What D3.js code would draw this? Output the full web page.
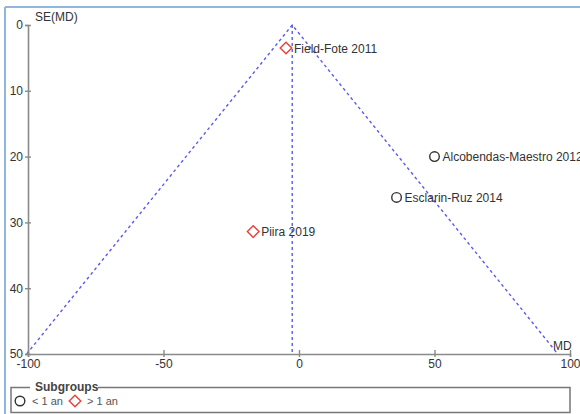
<!DOCTYPE html>
<html><head><meta charset="utf-8">
<script src="https://cdn.jsdelivr.net/npm/d3@7"></script>
<style>body{margin:0;background:#fff}svg{display:block;font-family:"Liberation Sans",Arial,sans-serif}</style>
</head><body><svg id="c" width="580" height="414"></svg>
<script>
const studies = ["Field-Fote 2011","Alcobendas-Maestro 2012","Esclarin-Ruz 2014","Piira 2019"];
const md = [-4.8, 50, 36, -16.9];
const se = [3.5, 20, 26.2, 31.4];
const group = ["> 1 an","< 1 an","< 1 an","> 1 an"];
const pooledMD = -2.5;
const xTicks = [-100,-50,0,50,100];
const yTicks = [0,10,20,30,40,50];
const groups = ["< 1 an","> 1 an"];

const FONT = "Liberation Sans, Arial, sans-serif";
const svg = d3.select("#c");
const x = d3.scaleLinear().domain([-100,100]).range([28,570]);
const y = d3.scaleLinear().domain([0,50]).range([25,354]);

// frame
svg.append("line").attr("x1",5).attr("x2",580).attr("y1",7).attr("y2",7).attr("stroke","#8fb6df").attr("stroke-width",2);
svg.append("line").attr("x1",5).attr("x2",5).attr("y1",7).attr("y2",414).attr("stroke","#8fb6df").attr("stroke-width",2);

// funnel
const maxSE = 50;
const lineCol = "#5a5aee";
const funnel = [[pooledMD-1.96*maxSE,maxSE],[pooledMD,0],[pooledMD+1.96*maxSE,maxSE]];
svg.append("path").attr("d", d3.line().x(d=>x(d[0])).y(d=>y(d[1]))(funnel))
  .attr("fill","none").attr("stroke",lineCol).attr("stroke-width",1.4).attr("stroke-dasharray","3,3");
svg.append("line").attr("x1",x(pooledMD)).attr("x2",x(pooledMD)).attr("y1",y(0)).attr("y2",y(maxSE))
  .attr("stroke",lineCol).attr("stroke-width",1.4).attr("stroke-dasharray","3,3");

// axes
const axCol = "#8a8a8a";
const fmt = d => String(d);
const yAxis = svg.append("g").attr("transform",`translate(${x(-100)},0)`)
  .call(d3.axisLeft(y).tickValues(yTicks).tickFormat(fmt).tickSize(3).tickPadding(2));
yAxis.selectAll(".tick line").attr("x2",3).attr("x1",-3);
const xAxis = svg.append("g").attr("transform",`translate(0,${y(50)})`)
  .call(d3.axisBottom(x).tickValues(xTicks).tickFormat(fmt).tickSize(3).tickPadding(2));
xAxis.selectAll(".tick line").attr("y1",-4).attr("y2",3);
[yAxis,xAxis].forEach(a=>{
  a.attr("font-family",FONT).attr("font-size",12);
  a.select(".domain").attr("stroke",axCol).attr("stroke-width",1.6);
  a.selectAll(".tick line").attr("stroke",axCol).attr("stroke-width",1.4);
  a.selectAll("text").attr("fill","#333");
});
yAxis.selectAll(".tick text").attr("dy","0.32em");

svg.append("text").attr("x",35).attr("y",21).attr("font-size",12).attr("fill","#333").text("SE(MD)");
svg.append("text").attr("x",553).attr("y",350).attr("font-size",12).attr("fill","#333").text("MD");

// points
const red = "#e8403a";
function drawMarker(g, grp, cx, cy){
  if(grp==="< 1 an"){
    g.append("circle").attr("cx",cx).attr("cy",cy).attr("r",4.8).attr("fill","none").attr("stroke","#333").attr("stroke-width",1.4);
  } else {
    const s=5.8;
    g.append("path").attr("d",`M${cx},${cy-s}L${cx+s},${cy}L${cx},${cy+s}L${cx-s},${cy}Z`).attr("fill","none").attr("stroke",red).attr("stroke-width",1.4);
  }
}
studies.forEach((s,i)=>{
  const cx=x(md[i]), cy=y(se[i]);
  drawMarker(svg, group[i], cx, cy);
  svg.append("text").attr("x",cx+8).attr("y",cy+4.5).attr("font-size",12).attr("fill","#333").text(s);
});

// legend
const lg = svg.append("g");
lg.append("path").attr("d","M30,387.5 L11,387.5 L11,412.5 L570,412.5 L570,387.5 L98,387.5")
  .attr("fill","none").attr("stroke","#777").attr("stroke-width",1.5);
lg.append("text").attr("x",35).attr("y",391).attr("font-size",12).attr("font-weight","bold").attr("fill","#444").text("Subgroups");
let lx=20;
groups.forEach((g,i)=>{
  drawMarker(lg, g, lx, 401);
  lg.append("text").attr("x",lx+12).attr("y",405).attr("font-size",11).attr("fill","#555").text(g);
  lx += 55;
});
</script></body></html>
